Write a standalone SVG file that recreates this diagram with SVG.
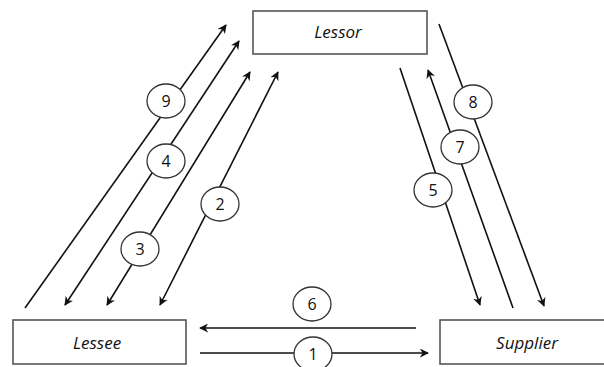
<svg xmlns="http://www.w3.org/2000/svg" width="604" height="367" viewBox="0 0 604 367">
<style>
.box{fill:#fff;stroke:#555;stroke-width:1.6}
.lbl{font-family:"Open Sans","Noto Sans",sans-serif;font-style:italic;font-size:17px;fill:#111;text-anchor:middle}
.num{font-family:"Open Sans","Noto Sans",sans-serif;font-size:16px;fill:#111;text-anchor:middle}
.ell{fill:#fff;stroke:#333;stroke-width:1.3}
.ln{stroke:#111;stroke-width:1.6;fill:none}
</style>
<defs>
<marker id="ah" viewBox="0 0 10 10" refX="9" refY="5" markerWidth="9" markerHeight="9" markerUnits="userSpaceOnUse" orient="auto-start-reverse">
<path d="M0,0 L10,5 L0,10 L3,5 Z" fill="#111"/>
</marker>
</defs>
<g id="connectors">
<line class="ln" x1="25" y1="308" x2="226" y2="25" marker-end="url(#ah)"/>
<line class="ln" x1="65" y1="305" x2="239" y2="41" marker-start="url(#ah)" marker-end="url(#ah)"/>
<line class="ln" x1="107" y1="305" x2="250" y2="72" marker-start="url(#ah)" marker-end="url(#ah)"/>
<line class="ln" x1="160" y1="305" x2="278" y2="72" marker-start="url(#ah)" marker-end="url(#ah)"/>
<line class="ln" x1="400" y1="68" x2="480" y2="305" marker-end="url(#ah)"/>
<line class="ln" x1="513" y1="308" x2="428" y2="70" marker-end="url(#ah)"/>
<line class="ln" x1="439" y1="24" x2="544" y2="306" marker-end="url(#ah)"/>
<line class="ln" x1="416" y1="328" x2="200" y2="328" marker-end="url(#ah)"/>
<line class="ln" x1="200" y1="353" x2="428" y2="353" marker-end="url(#ah)"/>
</g>
<g id="labels">
<g id="l9"><ellipse class="ell" cx="166" cy="101" rx="19" ry="17"/><text class="num" x="166" y="107">9</text></g>
<g id="l4"><ellipse class="ell" cx="166" cy="161" rx="19" ry="17"/><text class="num" x="166" y="167">4</text></g>
<g id="l2"><ellipse class="ell" cx="220" cy="204" rx="19" ry="17"/><text class="num" x="220" y="210">2</text></g>
<g id="l3"><ellipse class="ell" cx="140" cy="249" rx="19" ry="17"/><text class="num" x="140" y="255">3</text></g>
<g id="l8"><ellipse class="ell" cx="473" cy="102" rx="19" ry="17"/><text class="num" x="473" y="108">8</text></g>
<g id="l7"><ellipse class="ell" cx="460" cy="147" rx="19" ry="17"/><text class="num" x="460" y="153">7</text></g>
<g id="l5"><ellipse class="ell" cx="433" cy="190" rx="19" ry="17"/><text class="num" x="433" y="196">5</text></g>
<g id="l6"><ellipse class="ell" cx="312" cy="304" rx="19" ry="17"/><text class="num" x="312" y="310">6</text></g>
<g id="l1"><ellipse class="ell" cx="313" cy="354" rx="19" ry="17"/><text class="num" x="313" y="360">1</text></g>
</g>
<g id="lessor"><rect class="box" x="253" y="11" width="174" height="43"/><text class="lbl" x="338" y="38">Lessor</text></g>
<g id="lessee"><rect class="box" x="13" y="320" width="173" height="44"/><text class="lbl" x="97" y="349">Lessee</text></g>
<g id="supplier"><rect class="box" x="440" y="320" width="170" height="44"/><text class="lbl" x="527" y="349">Supplier</text></g>
</svg>
